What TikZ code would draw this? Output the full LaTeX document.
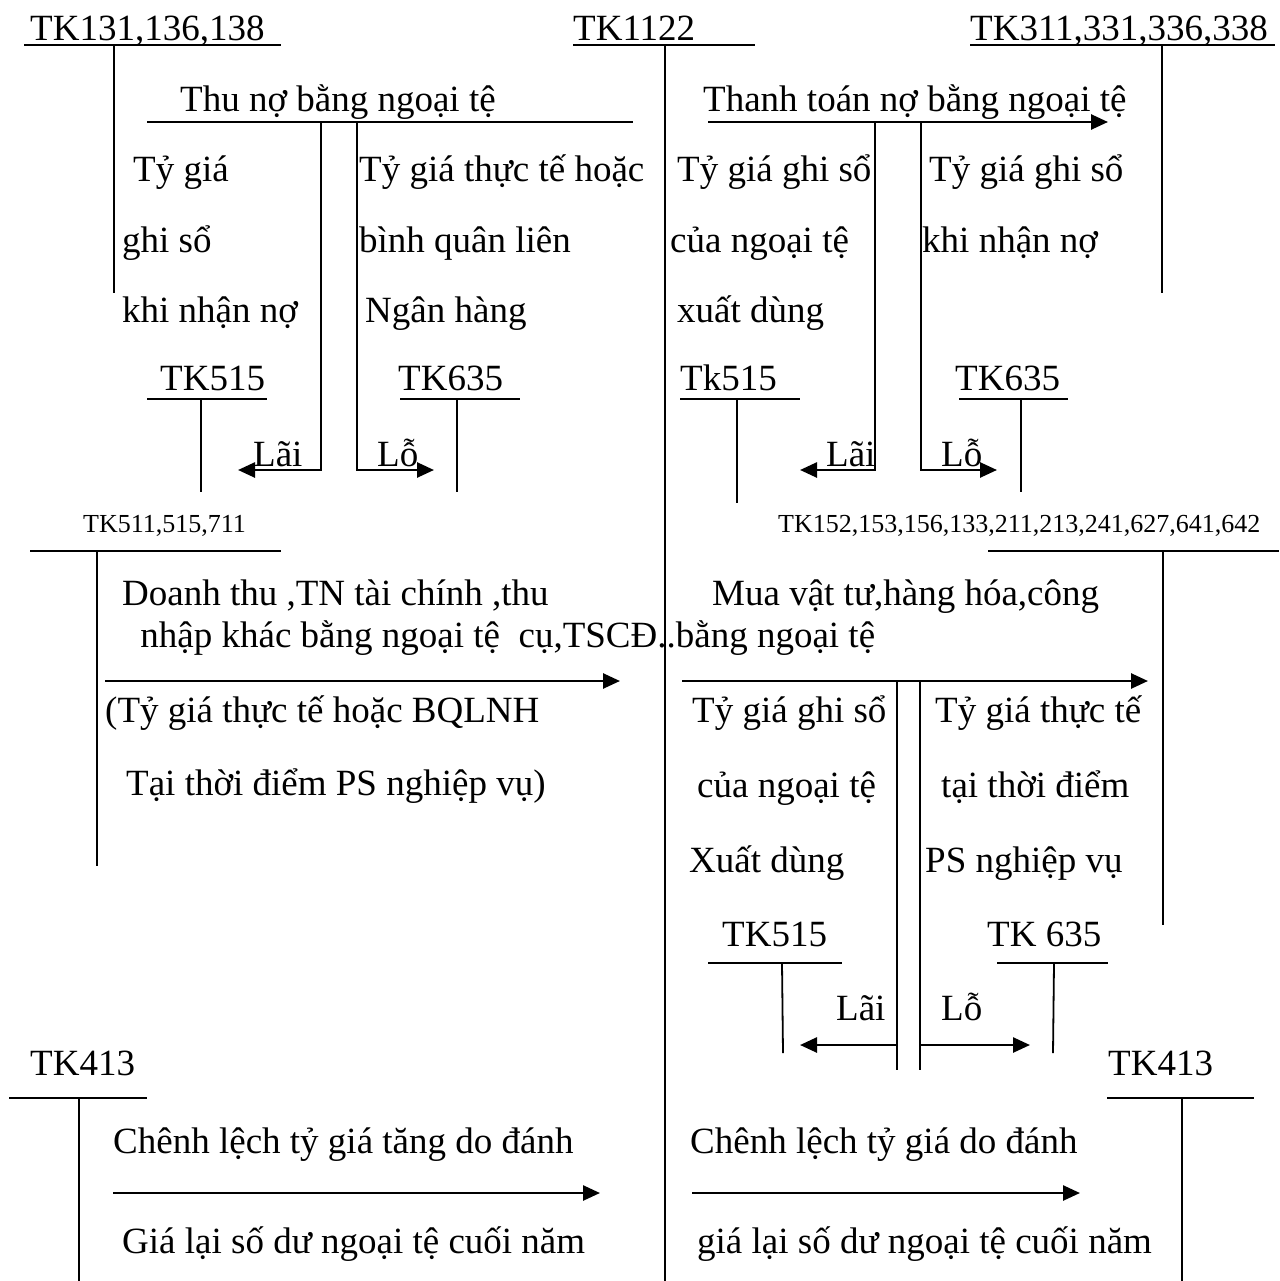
\documentclass[tikz,border=0pt]{standalone}
\usepackage{fontspec}
\setmainfont{Liberation Serif}
\usetikzlibrary{arrows.meta,positioning}

\begin{document}
\begin{tikzpicture}[
  x=1pt, y=-1pt,
  txt/.style={anchor=base west, inner sep=0pt, font=\fontsize{37}{40}\selectfont},
  smalltxt/.style={anchor=base west, inner sep=0pt, font=\fontsize{26}{28}\selectfont},
  tacc/.style={line width=1.8pt},
  plainline/.style={line width=2.6pt},
  flow/.style={line width=2.6pt, -{Triangle[length=17pt,width=15pt]}}
]
\useasboundingbox (0,0) rectangle (1279,1281);

% Account headings
\node[txt] (tk131) at (30,41) {TK131,136,138};
\node[txt] (tk1122) at (573,41) {TK1122};
\node[txt] (tk311) at (970,41) {TK311,331,336,338};
\draw[tacc] (24,45) -- (281,45);
\draw[tacc] (573,45) -- (755,45);
\draw[tacc] (970,45) -- (1275,45);
\draw[tacc] (114,45) -- (114,293);
\draw[tacc] (665,45) -- (665,1281);
\draw[tacc] (1162,45) -- (1162,293);

% Thu no / thanh toan no
\node[txt] (thuno) at (180,112) {Thu nợ bằng ngoại tệ};
\node[txt] (thanhtoan) at (703,112) {Thanh toán nợ bằng ngoại tệ};
\coordinate (thuA) at (147,122);
\coordinate (thuB) at (633,122);
\coordinate (ttA) at (708,122);
\coordinate (ttB) at (1108,122);
\draw[plainline] (thuA) -- (thuB);
\draw[flow] (ttA) -- (ttB);

\node[txt] (tg1) at (133,182) {Tỷ giá};
\node[txt] (tg2) at (122,252) {ghi sổ};
\node[txt] (tg3) at (122,322) {khi nhận nợ};
\node[txt] (tt1) at (359,182) {Tỷ giá thực tế hoặc};
\node[txt] (tt2) at (359,252) {bình quân liên};
\node[txt] (tt3) at (365,322) {Ngân hàng};
\node[txt] (gs1) at (677,182) {Tỷ giá ghi sổ};
\node[txt] (gs2) at (670,252) {của ngoại tệ};
\node[txt] (gs3) at (677,322) {xuất dùng};
\node[txt] (nn1) at (929,182) {Tỷ giá ghi sổ};
\node[txt] (nn2) at (922,252) {khi nhận nợ};

% Lai / lo of thu no
\node[txt] (tk515a) at (160,390) {TK515};
\node[txt] (tk635a) at (398,390) {TK635};
\draw[tacc] (147,399) -- (267,399);
\draw[tacc] (201,399) -- (201,492);
\draw[tacc] (400,399) -- (520,399);
\draw[tacc] (457,399) -- (457,492);
\node[txt] (laiA) at (253,466) {Lãi};
\node[txt] (loA) at (377,466) {Lỗ};
\coordinate (laiAend) at (238,470);
\coordinate (loAend) at (434,470);
\draw[flow] (321,122) |- (laiAend);
\draw[flow] (357,122) |- (loAend);

% Lai / lo of thanh toan no
\node[txt] (tk515b) at (680,390) {Tk515};
\node[txt] (tk635b) at (955,390) {TK635};
\draw[tacc] (680,399) -- (800,399);
\draw[tacc] (737,399) -- (737,503);
\draw[tacc] (959,399) -- (1068,399);
\draw[tacc] (1021,399) -- (1021,492);
\node[txt] (laiB) at (826,466) {Lãi};
\node[txt] (loB) at (941,466) {Lỗ};
\coordinate (laiBend) at (800,470);
\coordinate (loBend) at (997,470);
\draw[flow] (875,122) |- (laiBend);
\draw[flow] (921,122) |- (loBend);

% Doanh thu
\node[smalltxt] (tk511) at (83,532) {TK511,515,711};
\draw[tacc] (30,551) -- (281,551);
\draw[tacc] (97,551) -- (97,866);
\node[txt] (dt1) at (122,605) {Doanh thu ,TN tài chính ,thu};
\node[txt] (dt2) at (131,647) {~nhập khác bằng ngoại tệ~~cụ,TSCĐ..bằng ngoại tệ};
\coordinate (dtA) at (105,681);
\coordinate (dtB) at (620,681);
\draw[flow] (dtA) -- (dtB);
\node[txt] (dt3) at (105,722) {(Tỷ giá thực tế hoặc BQLNH};
\node[txt] (dt4) at (126,795) {Tại thời điểm PS nghiệp vụ)};

% Mua vat tu
\node[smalltxt] (tk152) at (778,532) {TK152,153,156,133,211,213,241,627,641,642};
\draw[tacc] (988,551) -- (1279,551);
\draw[tacc] (1163,551) -- (1163,925);
\node[txt] (mua1) at (712,605) {Mua vật tư,hàng hóa,công};
\coordinate (muaA) at (682,681);
\coordinate (muaB) at (1148,681);
\draw[flow] (muaA) -- (muaB);
\coordinate (splitL) at (897,681);
\coordinate (splitR) at (920,681);
\draw[tacc] (splitL) -- (897,1070);
\draw[tacc] (splitR) -- (920,1070);
\node[txt] (xd1) at (692,722) {Tỷ giá ghi sổ};
\node[txt] (xd2) at (697,797) {của ngoại tệ};
\node[txt] (xd3) at (689,872) {Xuất dùng};
\node[txt] (ps1) at (935,722) {Tỷ giá thực tế};
\node[txt] (ps2) at (941,797) {tại thời điểm};
\node[txt] (ps3) at (925,872) {PS nghiệp vụ};

\node[txt] (tk515c) at (722,946) {TK515};
\node[txt] (tk635c) at (987,946) {TK 635};
\draw[tacc] (708,963) -- (842,963);
\draw[tacc] (782,963) -- (783,1053);
\draw[tacc] (997,963) -- (1108,963);
\draw[tacc] (1054,963) -- (1053,1053);
\node[txt] (laiC) at (836,1020) {Lãi};
\node[txt] (loC) at (941,1020) {Lỗ};
\coordinate (laiCend) at (800,1045);
\coordinate (loCend) at (1030,1045);
\draw[flow] (897,1045) -- (laiCend);
\draw[flow] (920,1045) -- (loCend);

% Chenh lech ty gia cuoi nam
\node[txt] (tk413a) at (30,1075) {TK413};
\node[txt] (tk413b) at (1108,1075) {TK413};
\draw[tacc] (9,1098) -- (147,1098);
\draw[tacc] (79,1098) -- (79,1281);
\draw[tacc] (1107,1098) -- (1254,1098);
\draw[tacc] (1182,1098) -- (1182,1281);
\node[txt] (cl1) at (113,1153) {Chênh lệch tỷ giá tăng do đánh};
\node[txt] (cl2) at (122,1253) {Giá lại số dư ngoại tệ cuối năm};
\node[txt] (cl3) at (690,1153) {Chênh lệch tỷ giá do đánh};
\node[txt] (cl4) at (697,1253) {giá lại số dư ngoại tệ cuối năm};
\coordinate (clA) at (113,1193);
\coordinate (clB) at (600,1193);
\coordinate (clC) at (692,1193);
\coordinate (clD) at (1080,1193);
\draw[flow] (clA) -- (clB);
\draw[flow] (clC) -- (clD);

\end{tikzpicture}
\end{document}
